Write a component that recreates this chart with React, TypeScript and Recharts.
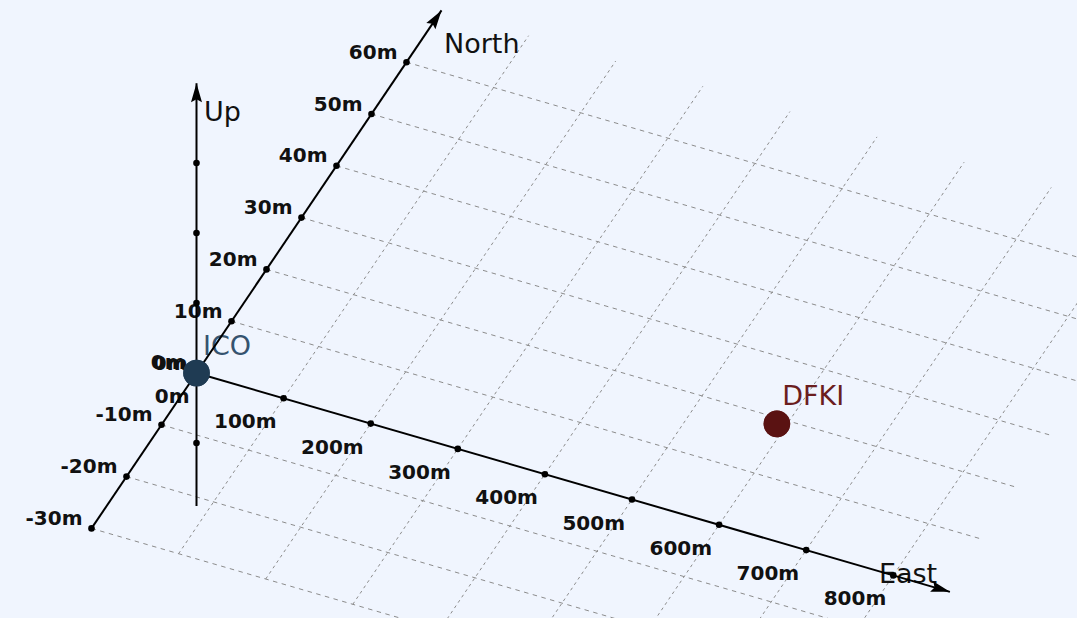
import { Scatter, ScatterChart, XAxis, YAxis } from "recharts";

// axis extents (metres)
const eastRange = [0, 865];
const northRange = [-30, 70];
const upRange = [-19, 41.4];

// ticks and labels
const eastTicks = [100, 200, 300, 400, 500, 600, 700, 800];
const eastTickLabels = ["0m", "100m", "200m", "300m", "400m", "500m", "600m", "700m", "800m"];
const eastLabelValues = [0, 100, 200, 300, 400, 500, 600, 700, 800];
const northTicks = [-30, -20, -10, 0, 10, 20, 30, 40, 50, 60];
const northTickLabels = ["-30m", "-20m", "-10m", "0m", "10m", "20m", "30m", "40m", "50m", "60m"];
const upTicks = [-10, 10, 20, 30];

// grid on the ground plane
const gridEastValues = [100, 200, 300, 400, 500, 600, 700, 800];
const gridNorthValues = [-30, -20, -10, 10, 20, 30, 40, 50, 60];
const gridEastEnd = 860;

// places
const placeNames = ["ICO", "DFKI"];
const placeEast = [0, 590];
const placeNorth = [0, 19];
const placeUp = [0, 0];
const placeColors = ["#1f3b53", "#5a1212"];
const placeLabelColors = ["#35536f", "#6b1e1e"];

// camera: screen pixels per metre (x right, y up)
const E = [0.871, -0.253];
const N = [3.5, 5.18];
const U = [0, 7];

const W = 1077;
const H = 618;
const FONT = "'DejaVu Sans', Verdana, sans-serif";

function project(e: number, n: number, u: number) {
	return { x: e * E[0] + n * N[0] + u * U[0], y: e * E[1] + n * N[1] + u * U[1] };
}

function screenDir(de: number, dn: number, du: number) {
	const p = project(de, dn, du);
	const len = Math.hypot(p.x, p.y);
	return { dx: p.x / len, dy: -p.y / len };
}

const noDot = () => <g />;

function Arrow(props: any) {
	const { cx, cy, payload } = props;
	const { dx, dy } = payload.dir;
	const len = 19;
	const hw = 5.5;
	const bx = cx - dx * len;
	const by = cy - dy * len;
	const pts = [
		[cx, cy],
		[bx - dy * hw, by + dx * hw],
		[bx + dx * 3, by + dy * 3],
		[bx + dy * hw, by - dx * hw],
	];
	return <polygon points={pts.map((p) => p.join(",")).join(" ")} fill="#000" />;
}

function TickDot(props: any) {
	return <circle cx={props.cx} cy={props.cy} r={3.3} fill="#000" />;
}

function TextMark(props: any) {
	const { cx, cy, payload } = props;
	return (
		<text
			x={cx + payload.ox}
			y={cy + payload.oy}
			textAnchor={payload.anchor}
			fontFamily={FONT}
			fontSize={payload.size}
			fontWeight={payload.bold ? "bold" : "normal"}
			fill={payload.color}
		>
			{payload.text}
		</text>
	);
}

function Sphere(props: any) {
	const { cx, cy, payload } = props;
	const id = `sph-${payload.name}`;
	return (
		<g>
			<defs>
				<radialGradient id={id} cx="40%" cy="35%" r="70%">
					<stop offset="0%" stopColor={payload.color} stopOpacity={0.85} />
					<stop offset="100%" stopColor={payload.color} />
				</radialGradient>
			</defs>
			<circle cx={cx} cy={cy} r={13.3} fill={payload.color} />
			<circle cx={cx} cy={cy} r={13.3} fill={`url(#${id})`} />
		</g>
	);
}

const seg = (a: number[], b: number[]) => [project(a[0], a[1], a[2]), project(b[0], b[1], b[2])];

export default function App() {
	const gridNorthLines = gridEastValues.map((e) => seg([e, northRange[0], 0], [e, northRange[1], 0]));
	const gridEastLines = gridNorthValues.map((n) => seg([0, n, 0], [gridEastEnd, n, 0]));

	const axes = [
		seg([eastRange[0], 0, 0], [eastRange[1], 0, 0]),
		seg([0, northRange[0], 0], [0, northRange[1], 0]),
		seg([0, 0, upRange[0]], [0, 0, upRange[1]]),
	];

	const arrows = [
		{ ...project(eastRange[1], 0, 0), dir: screenDir(1, 0, 0) },
		{ ...project(0, northRange[1], 0), dir: screenDir(0, 1, 0) },
		{ ...project(0, 0, upRange[1]), dir: screenDir(0, 0, 1) },
	];

	const tickDots = [
		...eastTicks.map((e) => project(e, 0, 0)),
		...northTicks.map((n) => project(0, n, 0)),
		...upTicks.map((u) => project(0, 0, u)),
	];

	const tickText = { size: 20, bold: true, color: "#111", anchor: "end" };
	const labels = [
		...eastLabelValues.map((e, i) => ({
			...project(e, 0, 0),
			...tickText,
			text: eastTickLabels[i],
			ox: -7,
			oy: 30,
		})),
		...northTicks.map((n, i) => ({
			...project(0, n, 0),
			...tickText,
			text: northTickLabels[i],
			ox: -9,
			oy: -3.5,
		})),
		// the Up axis zero label sits almost on top of the North one
		{ ...project(0, 0, 0), ...tickText, text: "0m", ox: -11, oy: -4.5 },
	];

	const titleText = { size: 27, bold: false, color: "#111", anchor: "start" };
	const titles = [
		{ ...project(eastRange[1], 0, 0), ...titleText, text: "East", ox: -71, oy: -9 },
		{ ...project(0, northRange[1], 0), ...titleText, text: "North", ox: 2.5, oy: 42.5 },
		{ ...project(0, 0, upRange[1]), ...titleText, text: "Up", ox: 7.5, oy: 38 },
	];

	const placeLabels = placeNames.map((name, i) => ({
		...project(placeEast[i], placeNorth[i], placeUp[i]),
		text: name,
		size: 27,
		bold: false,
		color: placeLabelColors[i],
		anchor: "start",
		ox: i === 0 ? 6.5 : 5.4,
		oy: i === 0 ? -18 : -19,
	}));

	const places = placeNames.map((name, i) => ({
		...project(placeEast[i], placeNorth[i], placeUp[i]),
		name,
		color: placeColors[i],
	}));

	return (
		<div style={{ position: "absolute", left: 0, top: 0, width: W, height: H, background: "#f0f5fe" }}>
			<ScatterChart width={W} height={H} margin={{ top: 0, right: 0, bottom: 0, left: 0 }}>
				<XAxis type="number" dataKey="x" domain={[-196.5, W - 196.5]} allowDataOverflow hide />
				<YAxis type="number" dataKey="y" domain={[373 - H, 373]} allowDataOverflow hide />
				{gridNorthLines.map((d, i) => (
					<Scatter
						key={`gn${i}`}
						data={d}
						line={{ stroke: "#8c8c8c", strokeWidth: 1, strokeDasharray: "3 3.5" }}
						shape={noDot}
						isAnimationActive={false}
					/>
				))}
				{gridEastLines.map((d, i) => (
					<Scatter
						key={`ge${i}`}
						data={d}
						line={{ stroke: "#8c8c8c", strokeWidth: 1, strokeDasharray: "4.5 4.5" }}
						shape={noDot}
						isAnimationActive={false}
					/>
				))}
				<Scatter data={placeLabels} shape={TextMark} isAnimationActive={false} />
				<Scatter data={labels} shape={TextMark} isAnimationActive={false} />
				<Scatter data={titles} shape={TextMark} isAnimationActive={false} />
				{axes.map((d, i) => (
					<Scatter
						key={`ax${i}`}
						data={d}
						line={{ stroke: "#000", strokeWidth: 2 }}
						shape={noDot}
						isAnimationActive={false}
					/>
				))}
				<Scatter data={arrows} shape={Arrow} isAnimationActive={false} />
				<Scatter data={tickDots} shape={TickDot} isAnimationActive={false} />
				<Scatter data={places} shape={Sphere} isAnimationActive={false} />
			</ScatterChart>
		</div>
	);
}
